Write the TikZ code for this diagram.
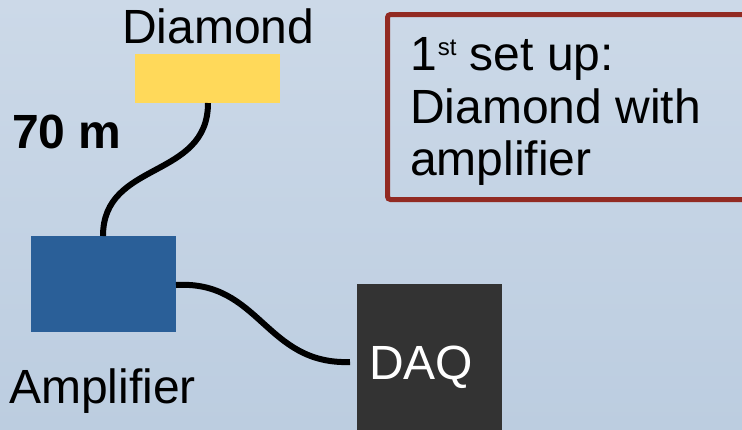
\documentclass[tikz,border=0pt]{standalone}
\usepackage{fontspec}
\setmainfont{Liberation Sans}
\definecolor{bgtop}{RGB}{204,217,232}
\definecolor{bgbot}{RGB}{188,205,224}
\definecolor{diamondyellow}{RGB}{255,217,90}
\definecolor{ampblue}{RGB}{42,95,152}
\definecolor{daqgray}{RGB}{51,51,51}
\definecolor{framered}{RGB}{146,42,34}
\newcommand{\ordsup}[1]{\kern1bp\raisebox{15bp}{\fontsize{24bp}{24bp}\selectfont #1}}
\begin{document}
\begin{tikzpicture}[x=1bp,y=-1bp,
  lbl/.style={inner sep=0pt,font=\fontsize{48bp}{55bp}\selectfont},
  block/.style={inner sep=0pt,draw=none},
  cable/.style={line width=6bp,black}]
% background
\shade[top color=bgtop,bottom color=bgbot] (0,0) rectangle (742,429);
\useasboundingbox (0,0) rectangle (742,429);

% components
\node[block,fill=diamondyellow,minimum width=145bp,minimum height=49bp,anchor=north west] (diamond) at (135,54) {};
\node[block,fill=ampblue,minimum width=145bp,minimum height=96bp,anchor=north west] (amp) at (31,236) {};
\node[block,fill=daqgray,minimum width=145bp,minimum height=150bp,anchor=north west] (daq) at (357,284) {};

% labels
\node[lbl,anchor=base west] (diamondlbl) at (122,43) {Diamond};
\node[lbl,anchor=base west] (amplbl) at (9,403) {Amplifier};
\node[lbl,anchor=base west,text=white] (daqlbl) at (369,379) {DAQ};
\node[lbl,anchor=base west,font=\fontsize{48bp}{55bp}\selectfont\bfseries] (length) at (12,148) {70 m};

% cables
\coordinate (c1a) at (208,103);
\coordinate (c1b) at (103,236);
\draw[cable] (c1a) .. controls (208,180) and (103,160) .. (c1b);
\coordinate (c2a) at (176,285);
\coordinate (c2b) at (350,362);
\draw[cable] (c2a) .. controls (260,280) and (265,365) .. (c2b);

% set-up note
\draw[framered,line width=5bp,rounded corners=3bp] (387.5,14.5) rectangle (760,199.5);
\node[lbl,anchor=base west] (note1) at (410,70) {1\ordsup{st} set up:};
\node[lbl,anchor=base west] (note2) at (410,123) {Diamond with};
\node[lbl,anchor=base west] (note3) at (410,175) {amplifier};
\end{tikzpicture}
\end{document}
